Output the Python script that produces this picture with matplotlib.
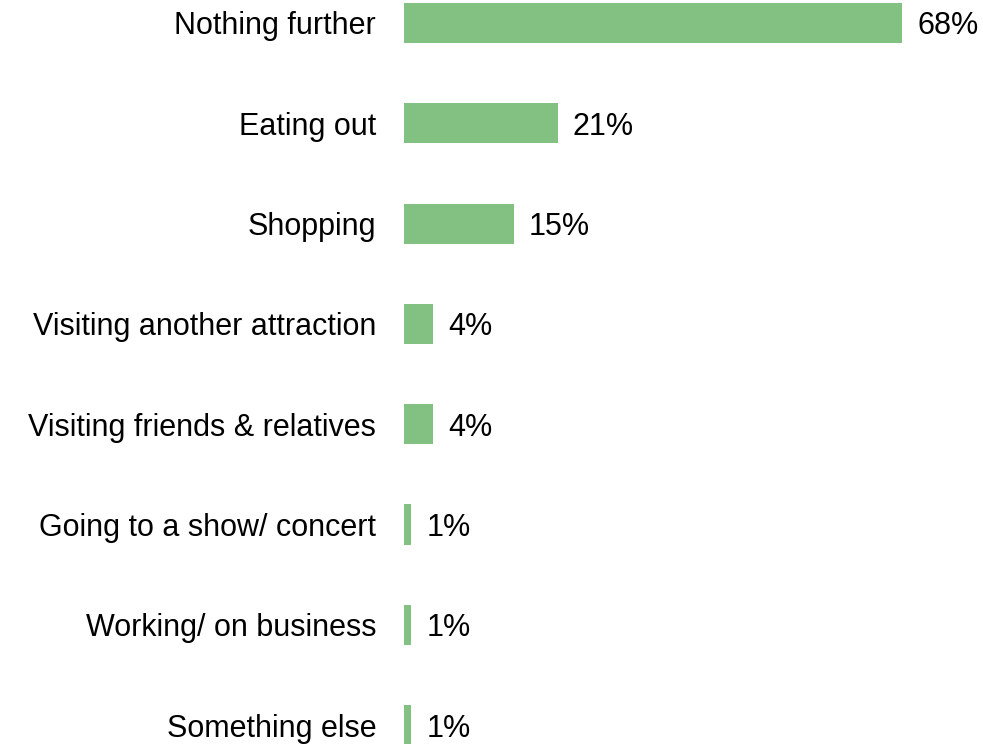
import matplotlib.pyplot as plt

plt.rcParams['font.family'] = ['Liberation Sans', 'DejaVu Sans']

categories = [
    "Nothing further",
    "Eating out",
    "Shopping",
    "Visiting another attraction",
    "Visiting friends & relatives",
    "Going to a show/ concert",
    "Working/ on business",
    "Something else",
]
percent = [68, 21, 15, 4, 4, 1, 1, 1]

bar_color = "#82C182"
fsize = 22

fig = plt.figure(figsize=(9.83, 7.44), dpi=100)
# axes start where the bars start; labels sit to the left as tick labels
ax = fig.add_axes([404 / 983, 0, 585.6 / 983, 1])

pos = list(range(len(categories)))
ax.barh(pos, percent, height=0.4, color=bar_color)

ax.set_xlim(0, 80)
ax.set_ylim(7.189, -0.229)

ax.set_yticks(pos)
ax.set_yticklabels(categories, fontsize=fsize)
ax.tick_params(axis='y', length=0, pad=20)
ax.set_xticks([])
for s in ax.spines.values():
    s.set_visible(False)

for p, v in zip(pos, percent):
    ax.annotate(f"{v}%", xy=(v, p), xytext=(11, 0), textcoords='offset points',
                ha='left', va='center_baseline', fontsize=fsize, clip_on=False)

fig.savefig("out.png", dpi=100)
